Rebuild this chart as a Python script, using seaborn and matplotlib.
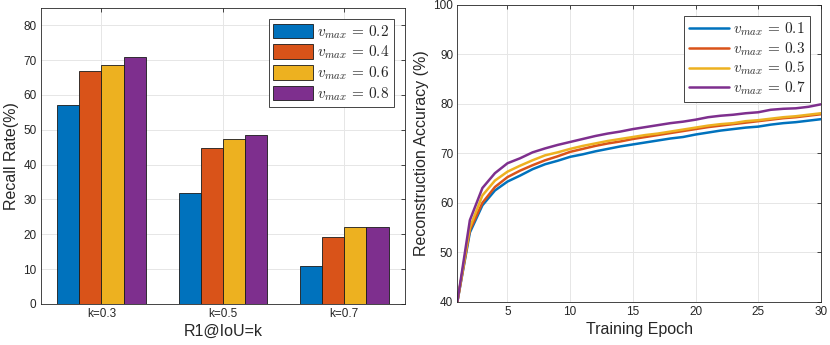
import numpy as np
import pandas as pd
import matplotlib
matplotlib.use("Agg")
import matplotlib.pyplot as plt
import seaborn as sns

# ==========================================
# Data
# ==========================================

groups = ["k=0.3", "k=0.5", "k=0.7"]
bar_labels = [r"$v_{max}\,=\,0.2$", r"$v_{max}\,=\,0.4$", r"$v_{max}\,=\,0.6$", r"$v_{max}\,=\,0.8$"]
recall_02 = [57.0, 32.0, 11.0]
recall_04 = [66.8, 44.7, 19.2]
recall_06 = [68.7, 47.5, 22.0]
recall_08 = [70.9, 48.5, 22.1]

epochs = list(range(1, 31))
line_labels = [r"$v_{max}\,=\,0.1$", r"$v_{max}\,=\,0.3$", r"$v_{max}\,=\,0.5$", r"$v_{max}\,=\,0.7$"]
acc_01 = [40.0, 54.0, 59.5, 62.5, 64.3, 65.5, 66.8, 67.8, 68.5, 69.3,
          69.8, 70.4, 70.9, 71.4, 71.8, 72.2, 72.6, 73.0, 73.3, 73.8,
          74.2, 74.6, 74.9, 75.2, 75.4, 75.8, 76.1, 76.3, 76.6, 76.9]
acc_03 = [40.0, 54.5, 60.0, 63.2, 65.2, 66.5, 67.6, 68.6, 69.4, 70.3,
          70.9, 71.5, 72.0, 72.4, 72.9, 73.3, 73.7, 74.1, 74.5, 74.9,
          75.3, 75.6, 75.9, 76.2, 76.5, 76.8, 77.1, 77.3, 77.6, 77.9]
acc_05 = [40.0, 55.0, 61.5, 64.5, 66.3, 67.5, 68.6, 69.6, 70.2, 70.9,
          71.5, 72.0, 72.5, 72.9, 73.3, 73.7, 74.0, 74.4, 74.8, 75.2,
          75.6, 75.9, 76.1, 76.5, 76.7, 77.0, 77.3, 77.5, 77.8, 78.1]
acc_07 = [40.0, 56.5, 63.0, 66.0, 68.0, 69.0, 70.2, 71.0, 71.7, 72.3,
          72.9, 73.5, 74.0, 74.4, 74.9, 75.3, 75.7, 76.1, 76.4, 76.8,
          77.3, 77.6, 77.8, 78.1, 78.3, 78.8, 79.0, 79.1, 79.4, 79.9]

colors = ["#0072BD", "#D95319", "#EDB120", "#7E2F8E"]

# ==========================================
# Style
# ==========================================

sns.set_style("whitegrid")
plt.rcParams["font.family"] = ["Liberation Sans", "DejaVu Sans"]
plt.rcParams["mathtext.fontset"] = "cm"
plt.rcParams["axes.edgecolor"] = "#262626"
plt.rcParams["axes.linewidth"] = 0.6
plt.rcParams["grid.color"] = "#e6e6e6"
plt.rcParams["grid.linewidth"] = 0.7

fig = plt.figure(figsize=(8.3, 3.45), dpi=100)
ax1 = fig.add_axes([0.049, 0.119, 0.439, 0.858])
ax2 = fig.add_axes([0.551, 0.125, 0.438, 0.861])

# ==========================================
# Bar chart
# ==========================================

bar_df = pd.DataFrame({
    "group": groups * 4,
    "vmax": np.repeat(bar_labels, 3),
    "recall": recall_02 + recall_04 + recall_06 + recall_08,
})

sns.barplot(data=bar_df, x="group", y="recall", hue="vmax",
            palette=colors, width=0.73, edgecolor="#1a1a1a",
            linewidth=0.6, saturation=1, ax=ax1)

ax1.set_ylim(0, 85)
ax1.set_xlim(-0.5, 2.5)
ax1.set_yticks(range(0, 81, 10))
ax1.set_xlabel("R1@IoU=k", fontsize=11.5, color="#262626", labelpad=3)
ax1.set_ylabel("Recall Rate(%)", fontsize=11.5, color="#262626", labelpad=3)
leg1 = ax1.legend(loc="upper right", fontsize=11, frameon=True, fancybox=False,
                  edgecolor="#262626", framealpha=1, handlelength=2.6,
                  handleheight=1.1, borderpad=0.3, labelspacing=0.2,
                  handletextpad=0.3, borderaxespad=0.7)
leg1.get_frame().set_linewidth(0.6)

# ==========================================
# Line chart
# ==========================================

line_df = pd.DataFrame({
    "epoch": epochs * 4,
    "vmax": np.repeat(line_labels, 30),
    "acc": acc_01 + acc_03 + acc_05 + acc_07,
})

sns.lineplot(data=line_df, x="epoch", y="acc", hue="vmax",
             palette=colors, linewidth=1.8, ax=ax2)

ax2.set_xlim(1, 30)
ax2.set_ylim(40, 100)
ax2.set_xticks([5, 10, 15, 20, 25, 30])
ax2.set_yticks(range(40, 101, 10))
ax2.set_xlabel("Training Epoch", fontsize=11.5, color="#262626", labelpad=3)
ax2.set_ylabel("Reconstruction Accuracy (%)", fontsize=11.5, color="#262626", labelpad=3)
leg2 = ax2.legend(loc="upper right", fontsize=11, frameon=True, fancybox=False,
                  edgecolor="#262626", framealpha=1, handlelength=2.6,
                  borderpad=0.3, labelspacing=0.15, handletextpad=0.3,
                  borderaxespad=0.7)
leg2.get_frame().set_linewidth(0.6)

for ax in [ax1, ax2]:
    ax.tick_params(direction="in", length=3, width=0.6, labelsize=8.5,
                   colors="#262626", top=True, right=True, pad=3)
    for sp in ax.spines.values():
        sp.set_visible(True)
        sp.set_color("#262626")
    ax.grid(True, axis="both")
    ax.set_axisbelow(True)

fig.savefig("out.png", dpi=100)
